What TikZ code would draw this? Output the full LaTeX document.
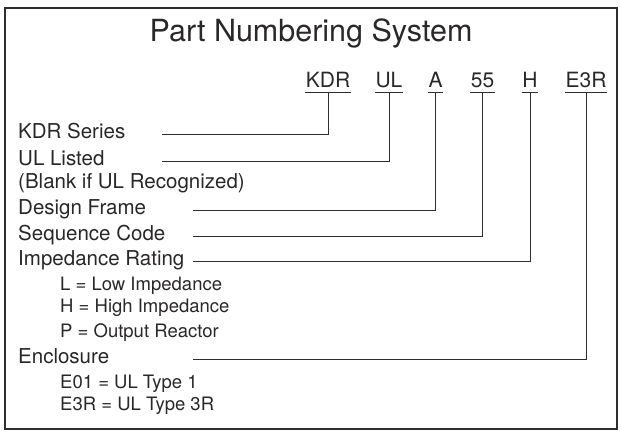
\documentclass[tikz,border=0pt]{standalone}
\usepackage{fontspec}
\setmainfont{TeX Gyre Heros}
\usetikzlibrary{positioning, calc}
\definecolor{pnink}{HTML}{2A2728}
\definecolor{pnframe}{HTML}{2E2E2E}

\begin{document}
\begin{tikzpicture}[
    x=1pt, y=-1pt,
    every node/.style={text=pnink, inner sep=0pt},
    fieldlabel/.style={anchor=base west, font=\fontsize{20.5}{24}\selectfont},
    fieldnote/.style={anchor=base west, font=\fontsize{18.5}{22}\selectfont},
    codepart/.style={anchor=base, font=\fontsize{21}{25}\selectfont, inner xsep=0.6pt, inner ysep=4pt},
    leader/.style={draw=pnframe, line width=1pt},
]

\useasboundingbox (0,0) rectangle (621,433);

% Frame
\draw[pnframe, line width=2.2pt] (5,8) rectangle (617,429);

% Title
\node[anchor=base, font=\fontsize{30.5}{36}\selectfont] (title) at (311,42) {Part Numbering System};

% --- Part number fields ---
\node[codepart] (kdr) at (328,88) {KDR};
\node[codepart] (ul) at (389,88) {UL};
\node[codepart] (frame) at (435.5,88) {A};
\node[codepart] (seq) at (482.5,88) {55};
\node[codepart] (imp) at (530,88) {H};
\node[codepart] (encl) at (586,88) {E3R};

% Underlines
\draw[leader] (kdr.south west) -- (kdr.south east);
\draw[leader] (ul.south west) -- (ul.south east);
\draw[leader] (frame.south west) -- (frame.south east);
\draw[leader] (seq.south west) -- (seq.south east);
\draw[leader] (imp.south west) -- (imp.south east);
\draw[leader] (encl.south west) -- (encl.south east);

% --- Descriptions ---
\node[fieldlabel] (kdrlabel) at (18,139) {KDR Series};
\node[fieldlabel] (ullabel) at (18,165) {UL Listed};
\node[fieldlabel] (blanklabel) at (18,188) {(Blank if UL Recognized)};
\node[fieldlabel] (framelabel) at (18,214) {Design Frame};
\node[fieldlabel] (seqlabel) at (18,240) {Sequence Code};
\node[fieldlabel] (implabel) at (18,265) {Impedance Rating};
\node[fieldnote] (implow) at (60,290) {L = Low Impedance};
\node[fieldnote] (imphigh) at (60,312) {H = High Impedance};
\node[fieldnote] (impout) at (60,337) {P = Output Reactor};
\node[fieldlabel] (encllabel) at (18,363) {Enclosure};
\node[fieldnote] (enclone) at (60,388) {E01 = UL Type 1};
\node[fieldnote] (enclthree) at (60,410) {E3R = UL Type 3R};

% Leader starts
\coordinate (kdrstart) at (162,135);
\coordinate (ulstart) at (162,161.5);
\coordinate (framestart) at (193,210);
\coordinate (seqstart) at (193,236);
\coordinate (impstart) at (193,261.5);
\coordinate (enclstart) at (193,359.5);

% --- Leaders ---
\draw[leader] (kdrstart) -| (kdr.south);
\draw[leader] (ulstart) -| (ul.south);
\draw[leader] (framestart) -| (frame.south);
\draw[leader] (seqstart) -| (seq.south);
\draw[leader] (impstart) -| (imp.south);
\draw[leader] (enclstart) -| (encl.south);

\end{tikzpicture}
\end{document}
